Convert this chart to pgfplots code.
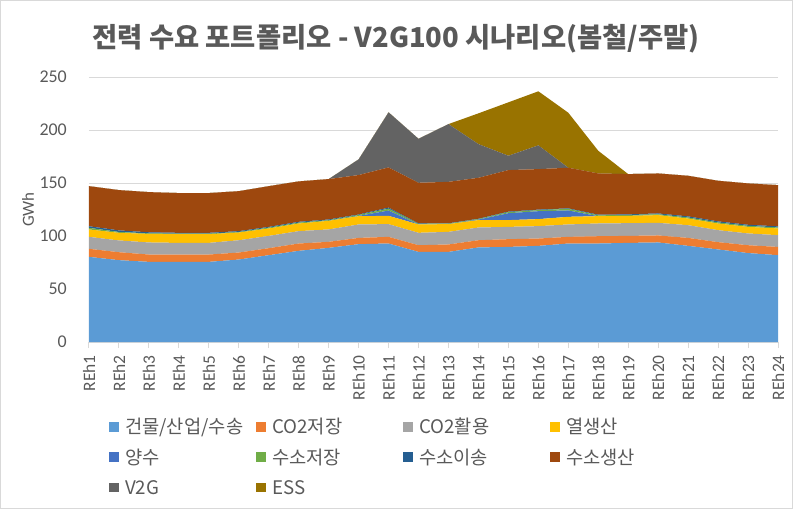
\documentclass[border=0pt]{standalone}
\usepackage{fontspec}
\usepackage{pgfplots}
\pgfplotsset{compat=1.18}
\setmainfont{Carlito}
\newfontfamily\kr{Noto Sans CJK KR}
\definecolor{c1}{HTML}{5B9BD5}
\definecolor{c2}{HTML}{ED7D31}
\definecolor{c3}{HTML}{A5A5A5}
\definecolor{c4}{HTML}{FFC000}
\definecolor{c5}{HTML}{4472C4}
\definecolor{c6}{HTML}{70AD47}
\definecolor{c7}{HTML}{255E91}
\definecolor{c8}{HTML}{9E480E}
\definecolor{c9}{HTML}{636363}
\definecolor{c10}{HTML}{997300}
\definecolor{txt}{HTML}{595959}
\definecolor{gridc}{HTML}{D9D9D9}
\begin{document}
\begin{tikzpicture}
\begin{axis}[
  at={(0,0)}, anchor=south west,
  scale only axis, width=689bp, height=265bp,
  xmin=1, xmax=24, ymin=0, ymax=250,
  stack plots=y,
  /pgf/number format/assume math mode=true,
  axis x line*=bottom, axis y line*=left,
  axis line style={-},
  x axis line style={draw=gridc, line width=1bp},
  y axis line style={draw=none},
  ytick={0,50,100,150,200,250},
  xtick={1,...,24},
  xticklabels={REh1,REh2,REh3,REh4,REh5,REh6,REh7,REh8,REh9,REh10,REh11,REh12,REh13,REh14,REh15,REh16,REh17,REh18,REh19,REh20,REh21,REh22,REh23,REh24},
  ymajorgrids, grid style={draw=gridc, line width=1bp},
  tick align=outside, major tick length=6bp,
  xtick style={draw=gridc, line width=1bp},
  ytick style={draw=none},
  ticklabel style={text=txt},
  yticklabel style={font=\fontsize{18}{18}\selectfont, anchor=east, inner sep=0pt, xshift=-16bp},
  xticklabel style={font=\fontsize{17.5}{17.5}\selectfont, rotate=90, anchor=east, inner sep=0pt, xshift=-7bp},
  ylabel={GWh},
  ylabel style={font=\fontsize{17}{17}\selectfont, text=txt, at={(axis description cs:-0.0885,0.5)}, anchor=center, rotate=0},
  legend columns=4,
  legend image code/.code={\fill[#1] (0bp,-4.75bp) rectangle (9.5bp,4.75bp);},
  legend style={at={(axis description cs:0.029,-0.2834)}, anchor=north west, draw=none, fill=none,
    inner sep=0pt, font=\kr\fontsize{18.8}{18.8}\selectfont, text=txt,
    column sep=0pt, row sep=11.4bp,
    cells={anchor=west},
    nodes={inner sep=0pt, text height=16.5bp, text depth=2.4bp},
    /tikz/every odd column/.append style={column sep=6.5bp}},
]
\addplot[fill=c1, draw=none] coordinates {(1,80.3) (2,77.2) (3,75.6) (4,75.6) (5,75.6) (6,77.8) (7,81.9) (8,86.0) (9,88.8) (10,92.3) (11,92.9) (12,85.0) (13,85.0) (14,89.2) (15,89.7) (16,90.7) (17,92.9) (18,92.9) (19,93.5) (20,93.9) (21,90.7) (22,87.3) (23,83.9) (24,81.9)} \closedcycle;
\addlegendentry{\makebox[131bp][l]{건물/산업/수송}}
\addplot[fill=c2, draw=none] coordinates {(1,7.6) (2,7.5) (3,6.9) (4,6.9) (5,6.9) (6,6.6) (7,6.6) (8,6.9) (9,5.7) (10,5.9) (11,6.3) (12,6.3) (13,7.0) (14,6.8) (15,7.3) (16,6.9) (17,6.3) (18,6.9) (19,6.6) (20,6.6) (21,7.5) (22,6.9) (23,7.4) (24,7.8)} \closedcycle;
\addlegendentry{\makebox[131bp][l]{CO2저장}}
\addplot[fill=c3, draw=none] coordinates {(1,11.3) (2,11.1) (3,11.4) (4,11.0) (5,11.0) (6,11.6) (7,11.6) (8,11.7) (9,11.7) (10,12.7) (11,12.0) (12,11.7) (13,11.9) (14,12.0) (15,11.6) (16,11.7) (17,11.7) (18,12.0) (19,12.0) (20,11.9) (21,12.0) (22,11.3) (23,11.1) (24,11.1)} \closedcycle;
\addlegendentry{\makebox[131bp][l]{CO2활용}}
\addplot[fill=c4, draw=none] coordinates {(1,7.0) (2,7.2) (3,8.1) (4,8.2) (5,8.2) (6,7.3) (7,7.0) (8,7.2) (9,8.1) (10,7.8) (11,7.8) (12,7.9) (13,7.3) (14,7.0) (15,6.4) (16,6.6) (17,7.2) (18,6.9) (19,6.9) (20,7.3) (21,6.3) (22,6.3) (23,6.2) (24,6.3)} \closedcycle;
\addlegendentry{\makebox[131bp][l]{열생산}}
\addplot[fill=c5, draw=none] coordinates {(1,0) (2,0) (3,0) (4,0) (5,0) (6,0) (7,0) (8,0) (9,0) (10,0.3) (11,5.0) (12,0) (13,0) (14,0.5) (15,6.5) (16,7.5) (17,6.0) (18,0) (19,0) (20,0) (21,0) (22,0) (23,0) (24,0)} \closedcycle;
\addlegendentry{\makebox[131bp][l]{양수}}
\addplot[fill=c6, draw=none] coordinates {(1,1.5) (2,0.8) (3,0.5) (4,0.5) (5,0.5) (6,0.5) (7,0.8) (8,0.8) (9,0.6) (10,0.8) (11,1.8) (12,0.6) (13,0.5) (14,0.5) (15,1.0) (16,1.0) (17,1.5) (18,0.8) (19,0.8) (20,0.8) (21,1.0) (22,1.0) (23,1.0) (24,1.0)} \closedcycle;
\addlegendentry{\makebox[131bp][l]{수소저장}}
\addplot[fill=c7, draw=none] coordinates {(1,1.5) (2,1.5) (3,1.0) (4,0.8) (5,0.8) (6,0.8) (7,0.7) (8,0.8) (9,0.7) (10,0.5) (11,1.0) (12,0.4) (13,0.3) (14,0.3) (15,0.5) (16,0.5) (17,0.5) (18,0.6) (19,0.6) (20,0.8) (21,1.0) (22,1.0) (23,1.0) (24,1.0)} \closedcycle;
\addlegendentry{\makebox[131bp][l]{수소이송}}
\addplot[fill=c8, draw=none] coordinates {(1,37.8) (2,38.0) (3,37.9) (4,37.5) (5,37.5) (6,37.7) (7,38.4) (8,38.1) (9,38.1) (10,37.2) (11,37.9) (12,38.3) (13,39.1) (14,38.6) (15,39.2) (16,38.2) (17,38.3) (18,38.9) (19,38.0) (20,37.7) (21,38.3) (22,38.3) (23,39.0) (24,38.9)} \closedcycle;
\addlegendentry{\makebox[131bp][l]{수소생산}}
\addplot[fill=c9, draw=none] coordinates {(1,0) (2,0) (3,0) (4,0) (5,0) (6,0) (7,0) (8,0) (9,0) (10,14.8) (11,52.0) (12,41.5) (13,54.5) (14,31.8) (15,13.5) (16,22.4) (17,0) (18,0) (19,0) (20,0) (21,0) (22,0) (23,0) (24,0)} \closedcycle;
\addlegendentry{\makebox[131bp][l]{V2G}}
\addplot[fill=c10, draw=none] coordinates {(1,0) (2,0) (3,0) (4,0) (5,0) (6,0) (7,0) (8,0) (9,0) (10,0) (11,0) (12,0) (13,0) (14,29.0) (15,50.4) (16,51.0) (17,51.9) (18,21.4) (19,0) (20,0) (21,0) (22,0) (23,0) (24,0)} \closedcycle;
\addlegendentry{\makebox[131bp][l]{ESS}}
\end{axis}
\node[text=txt, font=\kr\bfseries\fontsize{27.5}{27.5}\selectfont] at (307bp,303bp) {전력 수요 포트폴리오 - V2G100 시나리오(봄철/주말)};
\draw[gridc, line width=1bp] (-88.5bp,-166.5bp) rectangle (703.5bp,341.5bp);
\end{tikzpicture}
\end{document}
